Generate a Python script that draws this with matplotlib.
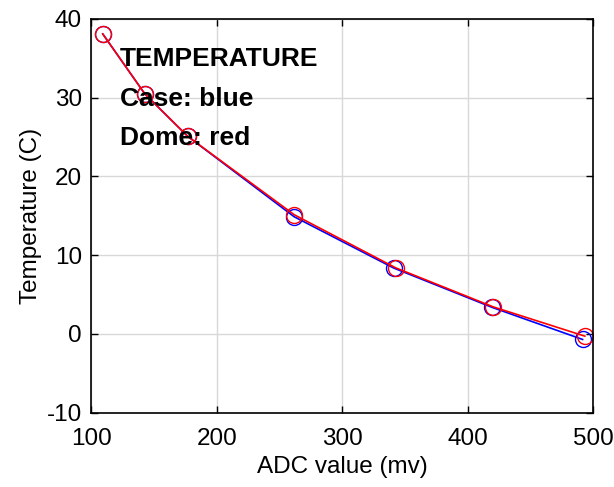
import matplotlib
matplotlib.use('Agg')
import matplotlib.pyplot as plt

plt.rcParams['font.family'] = ['Liberation Sans', 'DejaVu Sans']
plt.rcParams['axes.unicode_minus'] = False

# ADC readings (mV) and temperatures (C)
case_adc = [109, 142.5, 176.7, 261.7, 341.2, 419.6, 491.7]
case_temp = [38.1, 30.5, 25.1, 14.88, 8.36, 3.37, -0.70]
dome_adc = [109, 142.5, 176.7, 261.8, 342.6, 420.4, 493.5]
dome_temp = [38.1, 30.5, 25.1, 15.13, 8.40, 3.44, -0.28]

x_ticks = [100, 200, 300, 400, 500]
y_ticks = [-10, 0, 10, 20, 30, 40]

notes = ['TEMPERATURE', 'Case: blue', 'Dome: red']
note_y = [34, 29, 24]

fig = plt.figure(figsize=(6.14, 4.87), dpi=100)
ax = fig.add_axes([0.149, 0.1526, 0.8168, 0.8084])

ax.plot(case_adc, case_temp, color='#0000ff', lw=1.2, marker='o',
        markersize=11.5, markerfacecolor='none', markeredgewidth=1.0)
ax.plot(dome_adc, dome_temp, color='#ff0000', lw=1.2, marker='o',
        markersize=11.5, markerfacecolor='none', markeredgewidth=1.0)

for txt, y in zip(notes, note_y):
  ax.text(122.5, y, txt, fontsize=19, fontweight='bold', va='baseline', ha='left')

ax.set_xlim(100, 500)
ax.set_ylim(-10, 40)
ax.set_xticks(x_ticks)
ax.set_yticks(y_ticks)
ax.grid(True, color='#d8d8d8', lw=1.0)
ax.set_axisbelow(True)

ax.tick_params(direction='in', length=5, width=1, top=True, right=True,
               labelsize=17.5)
ax.tick_params(axis='x', pad=11)
ax.tick_params(axis='y', pad=7)
for s in ax.spines.values():
  s.set_linewidth(1.2)

ax.set_xlabel('ADC value (mv)', fontsize=17.5, labelpad=4)
ax.set_ylabel('Temperature (C)', fontsize=17.5, labelpad=3)

fig.savefig('out.png', dpi=100)
